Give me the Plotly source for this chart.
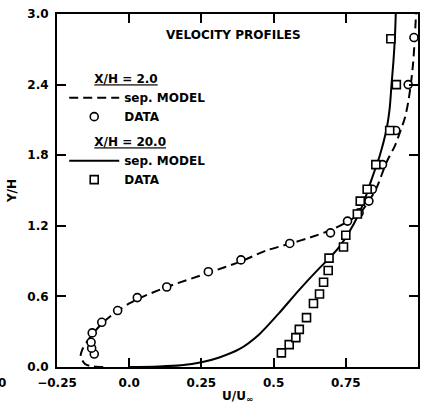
import plotly.graph_objects as go

# X/H = 2.0 : separated model (dashed) and data (circles)
model2_u = [-0.09, -0.125, -0.153, -0.168, -0.162, -0.145, -0.12, -0.09, -0.05, 0.0, 0.05, 0.13,
            0.274, 0.389, 0.475, 0.559, 0.625, 0.70, 0.752, 0.796, 0.83, 0.856, 0.891, 0.92,
            0.934, 0.955, 0.966, 0.976, 0.983, 0.989, 0.993]
model2_y = [0.0, 0.005, 0.025, 0.095, 0.15, 0.22, 0.30, 0.38, 0.46, 0.54, 0.60, 0.68,
            0.80, 0.90, 0.99, 1.05, 1.10, 1.165, 1.23, 1.30, 1.41, 1.52, 1.74, 1.88,
            1.97, 2.12, 2.25, 2.42, 2.58, 2.80, 3.0]
data2_u = [-0.121, -0.130, -0.132, -0.128, -0.095, -0.040, 0.028, 0.13, 0.274, 0.387,
           0.556, 0.697, 0.756, 0.796, 0.830, 0.842, 0.877, 0.923, 0.966, 0.986]
data2_y = [0.11, 0.16, 0.21, 0.29, 0.38, 0.48, 0.59, 0.68, 0.81, 0.91,
           1.05, 1.14, 1.24, 1.31, 1.41, 1.51, 1.72, 2.01, 2.40, 2.80]

# X/H = 20.0 : separated model (solid) and data (squares)
model20_u = [0.0, 0.1, 0.18, 0.25, 0.312, 0.381, 0.45, 0.519, 0.588, 0.657, 0.691, 0.726,
             0.76, 0.795, 0.815, 0.833, 0.850, 0.868, 0.891, 0.902, 0.908, 0.915, 0.920, 0.923]
model20_y = [0.0, 0.005, 0.015, 0.04, 0.081, 0.151, 0.277, 0.458, 0.654, 0.836, 0.92, 1.017,
             1.14, 1.30, 1.42, 1.55, 1.67, 1.80, 2.02, 2.20, 2.39, 2.60, 2.80, 3.0]
data20_u = [0.527, 0.554, 0.577, 0.589, 0.614, 0.638, 0.659, 0.673, 0.689, 0.692, 0.742,
            0.750, 0.790, 0.800, 0.824, 0.854, 0.902, 0.925, 0.906]
data20_y = [0.12, 0.19, 0.25, 0.32, 0.42, 0.54, 0.62, 0.72, 0.82, 0.925, 1.02,
            1.12, 1.30, 1.41, 1.51, 1.72, 2.01, 2.40, 2.79]

x_ticks = [-0.25, 0.0, 0.25, 0.5, 0.75, 1.0]
x_ticktext = ["\u22120.25", "0.0", "0.25", "0.5", "0.75", "1.0"]
y_ticks = [0.0, 0.6, 1.2, 1.8, 2.4, 3.0]
y_ticktext = ["0.0", "0.6", "1.2", "1.8", "2.4", "3.0"]

FONT = "DejaVu Sans"
bold = dict(family=FONT, size=12, color="black", weight="bold")

fig = go.Figure()
fig.add_trace(go.Scatter(
    x=model2_u, y=model2_y, mode="lines", name="sep. MODEL",
    line=dict(color="black", width=2, dash="9px,5px", shape="spline", smoothing=0.8),
    legendgroup="g2", legendgrouptitle=dict(text="      <u>X/H = 2.0</u>", font=bold)))
fig.add_trace(go.Scatter(
    x=data2_u, y=data2_y, mode="markers", name="DATA", legendgroup="g2",
    marker=dict(symbol="circle", size=8, color="white", line=dict(color="black", width=1.6))))
fig.add_trace(go.Scatter(
    x=model20_u, y=model20_y, mode="lines", name="sep. MODEL",
    line=dict(color="black", width=2, shape="spline", smoothing=0.8),
    legendgroup="g20", legendgrouptitle=dict(text="      <u>X/H = 20.0</u>", font=bold)))
fig.add_trace(go.Scatter(
    x=data20_u, y=data20_y, mode="markers", name="DATA", legendgroup="g20",
    marker=dict(symbol="square", size=8, color="white", line=dict(color="black", width=1.6))))

axis_common = dict(
    showline=True, linecolor="black", linewidth=2, mirror="ticks",
    ticks="inside", ticklen=9, tickwidth=2, tickcolor="black",
    showgrid=False, zeroline=False, tickfont=bold,
)

fig.update_layout(
    width=427, height=408,
    margin=dict(l=57, r=7, t=10, b=40),
    paper_bgcolor="white", plot_bgcolor="white",
    font=bold,
    showlegend=True,
    legend=dict(x=0.02, y=0.858, xanchor="left", yanchor="top",
                bgcolor="rgba(0,0,0,0)", font=bold, tracegroupgap=6,
                itemwidth=50),
    xaxis=dict(range=[-0.25, 1.0], tickvals=x_ticks, ticktext=x_ticktext,
               ticklabelstandoff=4,
               title=dict(text="U/U<sub>\u221e</sub>", font=bold, standoff=2),
               **axis_common),
    yaxis=dict(range=[0.0, 3.0], tickvals=y_ticks, ticktext=y_ticktext,
               ticklabelstandoff=4,
               title=dict(text="Y/H", font=bold, standoff=8),
               **axis_common),
    annotations=[
        dict(text="VELOCITY PROFILES", xref="paper", yref="paper", x=0.488, y=0.941,
             xanchor="center", yanchor="middle", showarrow=False, font=bold),
        dict(text="0", xref="paper", yref="paper", x=-0.168, y=-0.045,
             xanchor="left", yanchor="middle", showarrow=False, font=bold),
    ],
)

fig.write_html("out.html")
